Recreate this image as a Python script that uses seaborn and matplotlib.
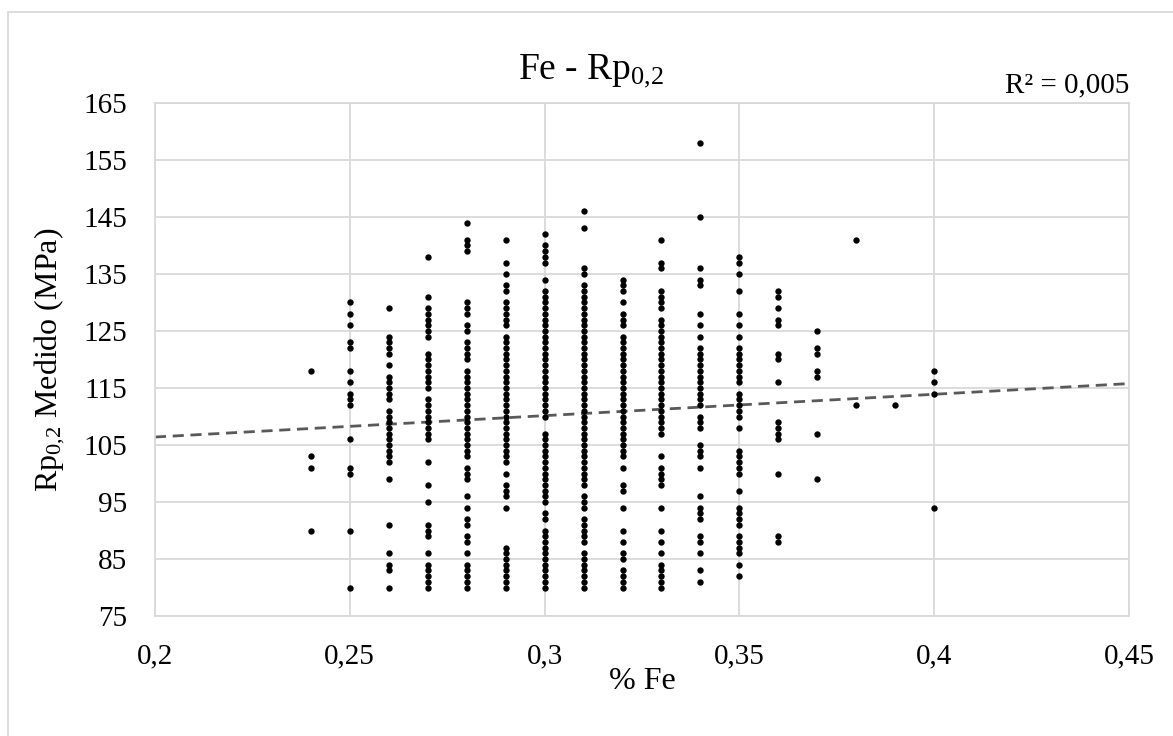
import matplotlib
matplotlib.use("Agg")
import matplotlib.pyplot as plt
from matplotlib.lines import Line2D
import numpy as np
import pandas as pd
import seaborn as sns

# Fe content levels (%) and measured Rp0,2 values (MPa) at each level
fe_levels = [0.24, 0.25, 0.26, 0.27, 0.28, 0.29, 0.30, 0.31, 0.32,
             0.33, 0.34, 0.35, 0.36, 0.37, 0.38, 0.39, 0.40]

rp_024 = [118, 103, 101, 90]
rp_025 = [130, 128, 126, 123, 122, 118, 116, 114, 113, 112, 106, 101, 100, 90, 80]
rp_026 = [129, 124, 123, 122, 121, 119, 117, 116, 115, 114, 113, 111, 110, 109,
          108, 107, 106, 105, 104, 103, 102, 99, 91, 86, 84, 83, 80]
rp_027 = [138, 131, 129, 128, 127, 126, 125, 124, 121, 120, 119, 118, 117, 116,
          115, 113, 112, 111, 110, 109, 108, 107, 106, 102, 98, 95, 91, 90, 89,
          86, 84, 83, 82, 81, 80]
rp_028 = [144, 141, 140, 139, 130, 129, 128, 126, 125, 123, 122, 121, 120, 118,
          117, 116, 115, 114, 113, 112, 111, 110, 109, 108, 107, 106, 105, 104,
          103, 101, 100, 99, 96, 94, 92, 91, 89, 88, 86, 84, 83, 82, 81, 80]
rp_029 = [141, 137, 135, 133, 132, 130, 129, 128, 127, 126, 124, 123, 122, 121,
          120, 119, 118, 117, 116, 115, 114, 113, 112, 111, 110, 109, 108, 107,
          106, 105, 104, 103, 102, 100, 98, 97, 96, 94, 87, 86, 85, 84, 83, 82,
          81, 80]
rp_030 = [142, 140, 139, 138, 137, 134, 132, 131, 130, 129, 128, 127, 126, 125,
          124, 123, 122, 121, 120, 119, 118, 117, 116, 115, 114, 113, 112, 111,
          110, 107, 106, 105, 104, 103, 102, 101, 100, 99, 98, 97, 96, 95, 93,
          92, 90, 89, 88, 87, 86, 85, 84, 83, 82, 81, 80]
rp_031 = [146, 143, 136, 135, 133, 132, 131, 130, 129, 128, 127, 126, 125, 124,
          123, 122, 121, 120, 119, 118, 117, 116, 115, 114, 113, 112, 111, 110,
          109, 108, 107, 106, 105, 104, 103, 102, 101, 100, 99, 98, 96, 95, 94,
          92, 91, 90, 89, 88, 86, 85, 84, 83, 82, 81, 80]
rp_032 = [134, 133, 132, 130, 128, 127, 126, 124, 123, 122, 121, 120, 119, 118,
          117, 116, 115, 114, 113, 112, 111, 110, 109, 108, 107, 106, 105, 104,
          103, 101, 98, 97, 94, 90, 88, 86, 85, 83, 82, 81, 80]
rp_033 = [141, 137, 136, 132, 131, 130, 129, 127, 126, 125, 124, 123, 122, 121,
          120, 119, 118, 117, 116, 115, 114, 113, 112, 111, 110, 109, 108, 107,
          103, 101, 100, 99, 98, 94, 90, 88, 86, 84, 83, 82, 81, 80]
rp_034 = [158, 145, 136, 134, 133, 128, 126, 124, 122, 121, 120, 119, 118, 117,
          116, 115, 114, 113, 112, 110, 109, 108, 105, 104, 103, 101, 96, 94, 93,
          92, 89, 88, 86, 83, 81]
rp_035 = [138, 137, 135, 132, 128, 126, 124, 122, 121, 120, 119, 118, 117, 116,
          114, 113, 112, 111, 110, 108, 104, 103, 102, 101, 100, 97, 94, 93, 92,
          91, 89, 88, 87, 86, 84, 82]
rp_036 = [132, 131, 129, 127, 126, 121, 120, 116, 109, 108, 107, 106, 100, 89, 88]
rp_037 = [125, 122, 121, 118, 117, 107, 99]
rp_038 = [141, 112]
rp_039 = [112]
rp_040 = [118, 116, 114, 94]

rp_columns = [rp_024, rp_025, rp_026, rp_027, rp_028, rp_029, rp_030, rp_031,
              rp_032, rp_033, rp_034, rp_035, rp_036, rp_037, rp_038, rp_039,
              rp_040]

# Linear trend line (Rp = slope * %Fe + intercept) and its R²
trend_slope = 37.5
trend_intercept = 98.9
r2_text = "R² = 0,005"

x_ticks = [0.2, 0.25, 0.3, 0.35, 0.4, 0.45]
x_tick_labels = ["0,2", "0,25", "0,3", "0,35", "0,4", "0,45"]
y_ticks = [75, 85, 95, 105, 115, 125, 135, 145, 155, 165]

df = pd.DataFrame({
    "fe": np.concatenate([[fe] * len(vals) for fe, vals in zip(fe_levels, rp_columns)]),
    "rp": np.concatenate(rp_columns),
})

sns.set_theme(style="white")
plt.rcParams["font.family"] = ["Liberation Serif", "DejaVu Serif"]
plt.rcParams["mathtext.fontset"] = "custom"
plt.rcParams["mathtext.rm"] = "Liberation Serif"
plt.rcParams["mathtext.it"] = "Liberation Serif:italic"
plt.rcParams["mathtext.default"] = "regular"

grid_color = "#d9d9d9"

fig = plt.figure(figsize=(11.73, 7.36), dpi=100)
fig.patch.set_facecolor("white")
ax = fig.add_axes([0.1321, 0.1630, 0.8304, 0.6971])

ax.set_xlim(0.2, 0.45)
ax.set_ylim(75, 165)

# Trend line across the full x range
x_line = np.array(ax.get_xlim())
trend_df = pd.DataFrame({"fe": x_line, "rp": trend_slope * x_line + trend_intercept})
sns.lineplot(data=trend_df, x="fe", y="rp", ax=ax, color="#595959",
             linewidth=2.0, linestyle=(0, (4, 2.4)), zorder=2)

sns.scatterplot(data=df, x="fe", y="rp", ax=ax, color="black", s=21,
                linewidth=0, zorder=3)

ax.set_xlim(0.2, 0.45)
ax.set_ylim(75, 165)
ax.set_xticks(x_ticks)
ax.set_xticklabels(x_tick_labels)
ax.set_yticks(y_ticks)
ax.set_yticklabels([str(v) for v in y_ticks])
ax.tick_params(axis="both", labelsize=21, length=0, colors="black")
ax.tick_params(axis="y", pad=20)
ax.tick_params(axis="x", pad=20)

ax.grid(True, color=grid_color, linewidth=1.3)
ax.set_axisbelow(True)
for spine in ax.spines.values():
    spine.set_visible(True)
    spine.set_color(grid_color)
    spine.set_linewidth(1.3)

ax.set_xlabel("% Fe", fontsize=23, color="black")
ax.set_ylabel("Rp$_{0{,}2}$ Medido (MPa)", fontsize=23, color="black")
ax.xaxis.set_label_coords(0.5, -0.100)
ax.yaxis.set_label_coords(-0.090, 0.5)

fig.text(0.5036, 1 - 79 / 736, "Fe - Rp$_{0{,}2}$", fontsize=27,
         ha="center", va="baseline", color="black")
ax.text(1.0, 1.0 + 11 / 513, r2_text, transform=ax.transAxes, fontsize=21,
        ha="right", va="baseline", color="black")

# Chart area border
fig.add_artist(Line2D([8 / 1173, 1.0], [1 - 12 / 736, 1 - 12 / 736],
                      transform=fig.transFigure, color=grid_color, linewidth=1.3))
fig.add_artist(Line2D([8 / 1173, 8 / 1173], [0.0, 1 - 12 / 736],
                      transform=fig.transFigure, color=grid_color, linewidth=1.3))

fig.savefig("out.png", dpi=100, facecolor="white")
